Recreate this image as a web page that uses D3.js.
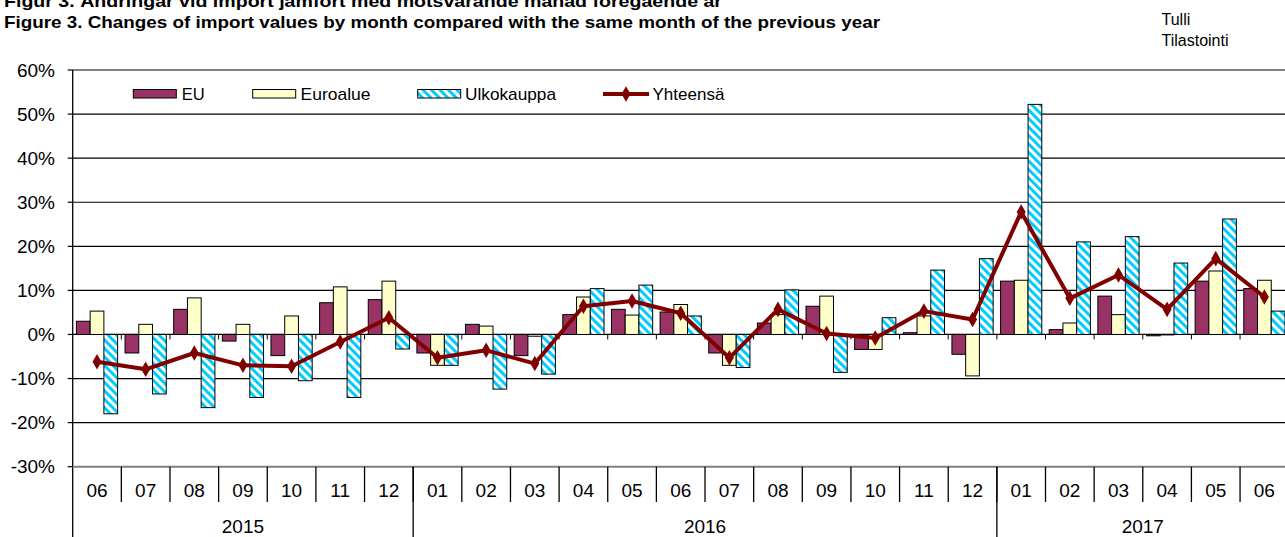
<!DOCTYPE html>
<html>
<head>
<meta charset="utf-8">
<script src="https://cdn.jsdelivr.net/npm/d3@7"></script>
<style>
  html, body { margin: 0; padding: 0; background: #fff; }
  svg { display: block; }
  text { font-family: "Liberation Sans", Arial, sans-serif; fill: #000; }
</style>
</head>
<body>
<svg id="chart" width="1285" height="537"></svg>
<script>
// ---- Data ----
const months = ["06","07","08","09","10","11","12","01","02","03","04","05","06","07","08","09","10","11","12","01","02","03","04","05","06"];
const years = ["2015","2016","2017"];
const yearSpans = [7, 12, 6];
const seriesNames = ["EU","Euroalue","Ulkokauppa"];
const lineName = "Yhteensä";
const euValues   = [3.0,-4.2,5.7,-1.5,-4.8,7.2,7.9,-4.2,2.3,-4.8,4.5,5.7,5.1,-4.2,2.6,6.4,-3.4,0.4,-4.5,12.1,1.1,8.7,-0.3,12.1,10.4];
const euroValues = [5.3,2.3,8.3,2.3,4.2,10.8,12.1,-7.0,1.9,-0.4,8.5,4.4,6.8,-7.0,4.5,8.7,-3.4,4.2,-9.4,12.3,2.6,4.5,-0.1,14.4,12.3];
const ulkoValues = [-18.0,-13.5,-16.6,-14.3,-10.5,-14.3,-3.3,-7.0,-12.4,-9.0,10.4,11.2,4.2,-7.5,10.1,-8.6,3.8,14.6,17.2,52.2,21.0,22.2,16.2,26.2,5.3];
const totalValues = [-6.2,-7.9,-4.2,-7.0,-7.2,-1.7,3.8,-5.3,-3.6,-6.6,6.4,7.6,4.8,-5.3,5.7,0.2,-0.8,5.3,3.4,27.8,8.2,13.5,5.7,17.2,8.5];
const yTicks = [-30,-20,-10,0,10,20,30,40,50,60];
const titleLines = ["Figur 3. Ändringar vid import jämfört med motsvarande månad föregående år",
                    "Figure 3. Changes of import values by month compared with the same month of the previous year"];
const sourceLines = ["Tulli","Tilastointi"];

(function () {
// ---- Layout ----
const svg = d3.select("#chart");
const plotLeft = 72.7, plotRight = 1288.7, plotTop = 70, plotBottom = 466.7;
const idx = d3.range(months.length);
const x = d3.scaleBand().domain(idx).range([plotLeft, plotRight]).padding(0);
const x1 = d3.scaleBand().domain([0,1,2]).range([0, x.bandwidth()]).paddingInner(0).paddingOuter(0.27);
const y = d3.scaleLinear().domain([-30, 60]).range([plotBottom, plotTop]);

const defs = svg.append("defs");
const pat = defs.append("pattern").attr("id","stripes").attr("patternUnits","userSpaceOnUse")
  .attr("width",6).attr("height",6).attr("patternTransform","rotate(-45)");
pat.append("rect").attr("width",6).attr("height",6).attr("fill","#fff");
pat.append("rect").attr("width",3).attr("height",6).attr("fill","#00CCFF");

const fills = ["#993366","#FFFFCC","url(#stripes)"];
const seriesData = [euValues, euroValues, ulkoValues];

// ---- Gridlines ----
svg.append("g").selectAll("line").data(yTicks.filter(t => t > -30 && t < 60)).join("line")
  .attr("x1", plotLeft).attr("x2", 1285).attr("y1", d => y(d)).attr("y2", d => y(d))
  .attr("stroke", "#000").attr("stroke-width", 1.2);
svg.append("line").attr("x1", plotLeft).attr("x2", 1285).attr("y1", y(60)).attr("y2", y(60))
  .attr("stroke", "#808080").attr("stroke-width", 2);

// ---- Bars ----
seriesData.forEach((vals, s) => {
  svg.append("g").selectAll("rect").data(vals).join("rect")
    .attr("x", (d,i) => x(i) + x1(s))
    .attr("width", x1.bandwidth())
    .attr("y", d => y(Math.max(0, d)))
    .attr("height", d => Math.abs(y(d) - y(0)))
    .attr("fill", fills[s])
    .attr("stroke", "#000").attr("stroke-width", 1);
});

// zero-line category ticks
svg.append("g").selectAll("line").data(d3.range(1, months.length)).join("line")
  .attr("x1", d => x(d)).attr("x2", d => x(d))
  .attr("y1", y(0)).attr("y2", y(0) + 5)
  .attr("stroke", "#000").attr("stroke-width", 1);

// ---- Line ----
const line = d3.line().x((d,i) => x(i) + x.bandwidth()/2).y(d => y(d));
svg.append("path").datum(totalValues).attr("d", line)
  .attr("fill","none").attr("stroke","#800000").attr("stroke-width",4).attr("stroke-linejoin","round");
const diamond = d3.symbol().type(d3.symbolDiamond).size(70);
svg.append("g").selectAll("path").data(totalValues).join("path")
  .attr("d", diamond)
  .attr("transform", (d,i) => `translate(${x(i) + x.bandwidth()/2},${y(d)})`)
  .attr("fill", "#800000");

// ---- Y axis ----
svg.append("line").attr("x1", plotLeft).attr("x2", plotLeft).attr("y1", plotTop).attr("y2", 537)
  .attr("stroke", "#000").attr("stroke-width", 1.3);
const yg = svg.append("g");
yg.selectAll("line").data(yTicks).join("line")
  .attr("x1", plotLeft - 5).attr("x2", plotLeft).attr("y1", d => y(d)).attr("y2", d => y(d))
  .attr("stroke", "#000").attr("stroke-width", 1.2);
yg.selectAll("text").data(yTicks).join("text")
  .attr("x", 55).attr("y", d => y(d)).attr("dy", "0.35em")
  .attr("text-anchor", "end").attr("font-size", 19)
  .text(d => d + "%");

// ---- Bottom category axis ----
svg.append("line").attr("x1", plotLeft).attr("x2", 1285).attr("y1", plotBottom).attr("y2", plotBottom)
  .attr("stroke", "#808080").attr("stroke-width", 2);
svg.append("g").selectAll("line").data(d3.range(1, months.length)).join("line")
  .attr("x1", d => x(d)).attr("x2", d => x(d)).attr("y1", plotBottom).attr("y2", 502)
  .attr("stroke", "#000").attr("stroke-width", 1.3);
svg.append("g").selectAll("text").data(months).join("text")
  .attr("x", (d,i) => x(i) + x.bandwidth()/2).attr("y", 497)
  .attr("text-anchor", "middle").attr("font-size", 19)
  .text(d => d);
let acc = 0;
const yearStarts = yearSpans.map(s => { const st = acc; acc += s; return st; });
svg.append("g").selectAll("line").data(yearStarts.slice(1)).join("line")
  .attr("x1", d => x(d)).attr("x2", d => x(d)).attr("y1", plotBottom).attr("y2", 537)
  .attr("stroke", "#000").attr("stroke-width", 1.3);
svg.append("g").selectAll("text").data(years).join("text")
  .attr("x", (d,i) => {
    const a = x(yearStarts[i]);
    const b = x(yearStarts[i] + yearSpans[i] - 1) + x.bandwidth();
    return (a + b) / 2;
  })
  .attr("y", 533).attr("text-anchor", "middle").attr("font-size", 19)
  .text(d => d);

// ---- Legend ----
const leg = svg.append("g");
const legItems = [
  {name: seriesNames[0], sx: 133.3, tx: 181.7, fill: fills[0], tl: 23},
  {name: seriesNames[1], sx: 252.7, tx: 300.5, fill: fills[1], tl: 70},
  {name: seriesNames[2], sx: 417.7, tx: 465, fill: fills[2], tl: 91}
];
legItems.forEach(it => {
  leg.append("rect").attr("x", it.sx).attr("y", 89.5).attr("width", 43).attr("height", 8.5)
    .attr("fill", it.fill).attr("stroke", "#000").attr("stroke-width", 1);
  leg.append("text").attr("x", it.tx).attr("y", 99.5).attr("font-size", 17)
    .attr("textLength", it.tl).attr("lengthAdjust", "spacingAndGlyphs").text(it.name);
});
leg.append("line").attr("x1", 603).attr("x2", 649).attr("y1", 94).attr("y2", 94)
  .attr("stroke", "#800000").attr("stroke-width", 4);
leg.append("path").attr("d", diamond).attr("transform", "translate(626,94)").attr("fill", "#800000");
leg.append("text").attr("x", 652.5).attr("y", 99.5).attr("font-size", 17)
  .attr("textLength", 72).attr("lengthAdjust", "spacingAndGlyphs").text(lineName);

// ---- Titles ----
svg.append("text").attr("x", 4).attr("y", 6.5).attr("font-size", 17).attr("font-weight", "bold")
  .attr("textLength", 718).attr("lengthAdjust", "spacingAndGlyphs").text(titleLines[0]);
svg.append("text").attr("x", 4).attr("y", 28.3).attr("font-size", 17).attr("font-weight", "bold")
  .attr("textLength", 876).attr("lengthAdjust", "spacingAndGlyphs").text(titleLines[1]);
svg.append("g").selectAll("text").data(sourceLines).join("text")
  .attr("x", 1161.5).attr("y", (d,i) => 25 + i * 20.7).attr("font-size", 16)
  .text(d => d);
})();
</script>
</body>
</html>
